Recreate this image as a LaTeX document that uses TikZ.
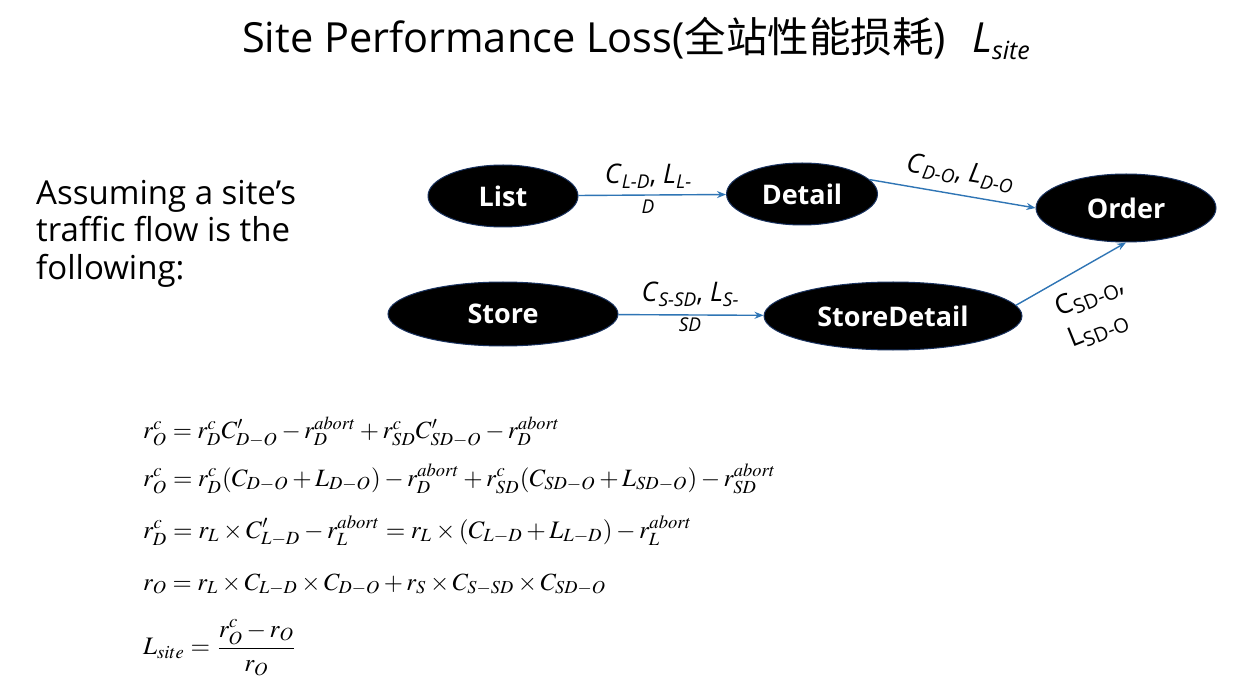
\documentclass[tikz,border=0pt]{standalone}
\usepackage{mathptmx}
\usepackage[no-math]{fontspec}
\usepackage{graphicx}
\setmainfont{Liberation Serif}
\newfontfamily\sansf{Open Sans}
\newfontfamily\cjkf{Noto Sans CJK SC}
\usetikzlibrary{arrows.meta,shapes.geometric}
\definecolor{arrblue}{RGB}{47,117,181}
\definecolor{rimblue}{RGB}{25,50,95}
\newcommand{\ilab}[2]{\textit{#1}\raisebox{-5pt}{\fontsize{19}{19}\selectfont\itshape #2}}
\newcommand{\ulab}[2]{#1\raisebox{-5pt}{\fontsize{20}{20}\selectfont #2}}
\tikzset{
  stage/.style={ellipse, fill=black, draw=rimblue, line width=1pt, inner sep=0pt,
    text=white, font=\sansf\bfseries\fontsize{27}{27}\selectfont},
  flow/.style={draw=arrblue, line width=1.4pt, -{Stealth[length=9pt,width=7pt]}},
  elabel/.style={inner sep=0pt, align=center, font=\sansf\fontsize{27}{30}\selectfont}
}
\begin{document}
\begin{tikzpicture}[x=1pt,y=-1pt]
\fill[white] (0,0) rectangle (1244,692);
\useasboundingbox (0,0) rectangle (1244,692);

% title
\node[inner sep=0pt, anchor=base] (title) at (636,53)
  {\sansf\fontsize{41.5}{41.5}\selectfont Site Performance Loss({\cjkf 全站性能损耗})\hspace{26pt}\textit{L}\raisebox{-7pt}{\fontsize{25}{25}\selectfont\itshape site}};

% left text
\node[inner sep=0pt, anchor=north west, align=left,
      font=\sansf\fontsize{33}{37.5}\selectfont] (intro) at (36,180)
  {Assuming a site’s\\traffic flow is the\\following:};

% stages
\node[stage, minimum width=150pt, minimum height=62pt] (list) at (503,196) {List};
\node[stage, minimum width=151pt, minimum height=62pt] (detail) at (802,194) {Detail};
\node[stage, minimum width=180pt, minimum height=68pt] (order) at (1126,208) {Order};
\node[stage, minimum width=230pt, minimum height=64pt] (store) at (503,314) {Store};
\node[stage, minimum width=258pt, minimum height=68pt] (sdetail) at (893,316) {StoreDetail};

% connectors
\draw[flow] (list) -- (detail);
\draw[flow] (detail.12) -- (order.west);
\draw[flow] (store) -- (sdetail);
\draw[flow] (sdetail.5) -- (order.south);

% connector labels
\node[elabel] (l1) at (648,189) {\ilab{C}{L-D}, \ilab{L}{L-}\\{\fontsize{19}{19}\selectfont\itshape D}};
\node[elabel] (l2) at (690,307) {\ilab{C}{S-SD}, \ilab{L}{S-}\\{\fontsize{19}{19}\selectfont\itshape SD}};
\node[elabel, rotate=-9.6] (l3) at (960,173) {\ilab{C}{D-O}, \ilab{L}{D-O}};
\node[elabel, rotate=22, align=left, font=\sansf\fontsize{27}{34}\selectfont] (l4) at (1096,312) {\ulab{C}{SD-O},\\\ulab{L}{SD-O}};

% equations
\node[inner sep=0pt, anchor=base west] (eq1) at (143,438)
  {\resizebox{417pt}{!}{$r_O^c = r_D^c C'_{D-O} - r_D^{abort} + r_{SD}^c C'_{SD-O} - r_D^{abort}$}};
\node[inner sep=0pt, anchor=base west] (eq2) at (143,486)
  {\resizebox{633pt}{!}{$r_O^c = r_D^c (C_{D-O} + L_{D-O}) - r_D^{abort} + r_{SD}^c (C_{SD-O} + L_{SD-O}) - r_{SD}^{abort}$}};
\node[inner sep=0pt, anchor=base west] (eq3) at (143,538)
  {\resizebox{549pt}{!}{$r_D^c = r_L \times C'_{L-D} - r_L^{abort} = r_L \times (C_{L-D} + L_{L-D}) - r_L^{abort}$}};
\node[inner sep=0pt, anchor=base west] (eq4) at (143,590)
  {\resizebox{463pt}{!}{$r_O = r_L \times C_{L-D} \times C_{D-O} + r_S \times C_{S-SD} \times C_{SD-O}$}};
\node[inner sep=0pt, anchor=west] (eq5) at (143,648)
  {\resizebox{154pt}{!}{$\displaystyle L_{site} = \frac{r_O^c - r_O}{r_O}$}};
\end{tikzpicture}
\end{document}
